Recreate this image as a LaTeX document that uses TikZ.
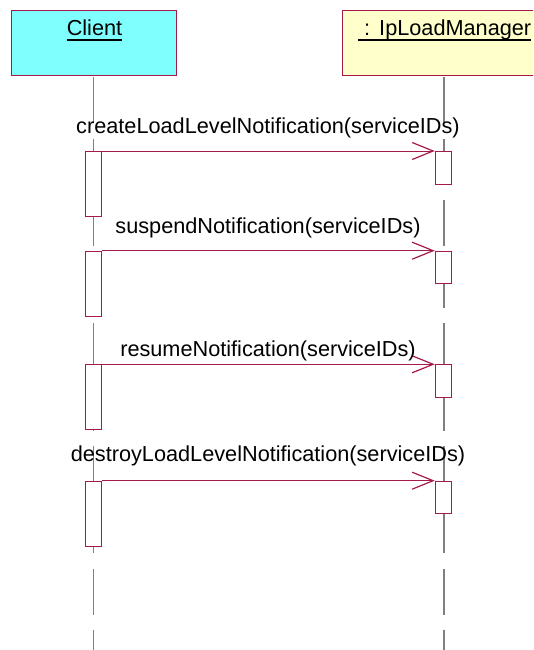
\documentclass[tikz,border=0pt]{standalone}
\usepackage{fontspec}
\setmainfont{Liberation Sans}
\usetikzlibrary{arrows.meta}
\definecolor{umlred}{RGB}{165,25,75}
\definecolor{lifegray}{RGB}{128,128,128}
\definecolor{clientfill}{RGB}{128,255,255}
\definecolor{serverfill}{RGB}{255,255,204}
\tikzset{
  objbox/.style={draw=umlred, line width=1pt, rectangle, inner sep=0pt},
  title/.style={inner sep=0pt, font=\fontsize{21.7}{26}\selectfont},
  ul/.style={line width=1.2pt, black},
  life/.style={draw=lifegray, line width=1.2pt, dash pattern=on 46pt off 15.4pt},
  actbox/.style={draw=umlred, fill=white, line width=1pt, rectangle, inner sep=0pt, minimum width=16.5pt},
  msg/.style={draw=umlred, line width=1pt, -{Straight Barb[length=21pt,width=17pt,line width=1.2pt]}},
  msglabel/.style={inner sep=0pt, anchor=base, font=\fontsize{21.7}{26}\selectfont},
}
\begin{document}
\begin{tikzpicture}[x=1pt,y=-1pt]
\useasboundingbox (0,0) rectangle (533,650);
\clip (0,0) rectangle (533,650);
% object boxes
\node[objbox, fill=clientfill, minimum width=165pt, minimum height=65pt] (client) at (93.5,43.5) {};
\node[objbox, fill=serverfill, minimum width=202.5pt, minimum height=65pt] (server) at (444,43.5) {};
\node[title, anchor=base] (clientlbl) at (94.5,36) {Client};
\draw[ul] ([yshift=-4pt]clientlbl.base west) -- ([yshift=-4pt]clientlbl.base east);
\node[title, anchor=base west] (serverlbl) at (358,36) {\hspace{6pt}:\hspace{9pt}IpLoadManager};
\draw[ul] ([yshift=-4pt]serverlbl.base west) -- ([yshift=-4pt]serverlbl.base east);
% lifelines
\coordinate (cstart) at (93.5,77.5);
\coordinate (cend) at (93.5,660);
\coordinate (sstart) at (444,77.5);
\coordinate (send) at (444,660);
\draw[life] (cstart) -- (cend);
\draw[life] (sstart) -- (send);
% activations
\node[actbox, minimum height=65pt, anchor=north] (c1) at (93.5,151) {};
\node[actbox, minimum height=32.5pt, anchor=north] (s1) at (443.5,151) {};
\node[actbox, minimum height=65pt, anchor=north] (c2) at (93.5,250.7) {};
\node[actbox, minimum height=32.5pt, anchor=north] (s2) at (443.5,250.7) {};
\node[actbox, minimum height=65pt, anchor=north] (c3) at (93.5,364.3) {};
\node[actbox, minimum height=32.5pt, anchor=north] (s3) at (443.5,364.3) {};
\node[actbox, minimum height=65pt, anchor=north] (c4) at (93.5,480.7) {};
\node[actbox, minimum height=32.5pt, anchor=north] (s4) at (443.5,480.7) {};
% messages
\draw[msg] (c1.north east) -- (s1.north west);
\draw[msg] (c2.north east) -- (s2.north west);
\draw[msg] (c3.north east) -- (s3.north west);
\draw[msg] (c4.north east) -- (s4.north west);
\node[msglabel] (m1) at (268,133) {createLoadLevelNotification(serviceIDs)};
\node[msglabel] (m2) at (268,233) {suspendNotification(serviceIDs)};
\node[msglabel] (m3) at (268,356) {resumeNotification(serviceIDs)};
\node[msglabel] (m4) at (268,461) {destroyLoadLevelNotification(serviceIDs)};
\end{tikzpicture}
\end{document}
